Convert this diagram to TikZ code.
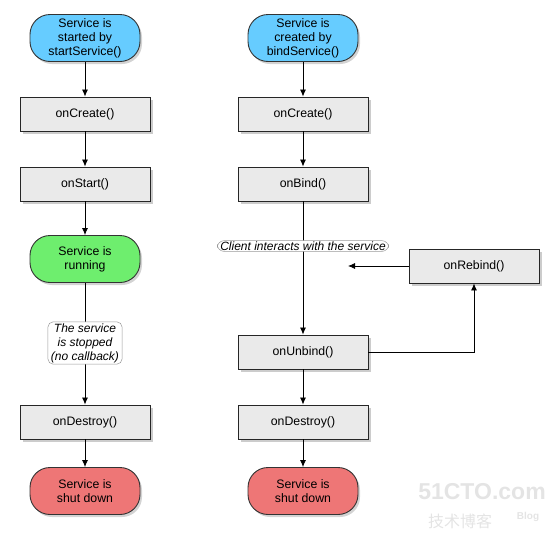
\documentclass[tikz,border=0pt]{standalone}
\usepackage{fontspec}
\setmainfont{Liberation Sans}
\newfontfamily\cjk{Noto Sans CJK SC}
\usetikzlibrary{shadows,arrows.meta,positioning}
\definecolor{termblue}{RGB}{102,204,255}
\definecolor{termgreen}{RGB}{110,238,110}
\definecolor{termred}{RGB}{238,118,118}
\definecolor{boxgray}{RGB}{234,234,234}
\definecolor{wm}{RGB}{228,228,228}
\tikzset{
  base/.style={font=\fontsize{12.3}{14}\selectfont, align=center, inner sep=0pt},
  term/.style={base, draw=black!80, line width=0.9pt, rounded corners=20pt, minimum width=110pt, minimum height=47pt, drop shadow={shadow xshift=2pt, shadow yshift=-2.5pt, opacity=0.35}},
  stepbox/.style={base, draw=black!85, line width=0.9pt, fill=boxgray, minimum width=130pt, minimum height=34pt, drop shadow={shadow xshift=2.5pt, shadow yshift=-3pt, opacity=0.4}},
  note/.style={base, draw=black!40, line width=0.5pt, fill=white, rounded corners=5pt, font=\fontsize{12}{14}\selectfont\itshape, inner xsep=3pt, inner ysep=1.5pt},
  arr/.style={line width=0.8pt, -{Latex[length=7pt,width=6pt]}},
  ln/.style={line width=0.8pt}
}
\begin{document}
\begin{tikzpicture}[x=1pt,y=-1pt]
\useasboundingbox (0,0) rectangle (558,544);
% left column
\node[term, fill=termblue] (ls) at (85,38) {Service is\\started by\\startService()};
\node[stepbox] (lc) at (85,114) {onCreate()};
\node[stepbox] (lst) at (85,184) {onStart()};
\node[term, fill=termgreen] (lr) at (85,259) {Service is\\running};
\node[stepbox] (ld) at (85,422) {onDestroy()};
\node[term, fill=termred] (le) at (85,491) {Service is\\shut down};
\draw[arr] (ls) -- (lc);
\draw[arr] (lc) -- (lst);
\draw[arr] (lst) -- (lr);
\draw[arr] (lr) -- (ld);
\draw[arr] (ld) -- (le);
\node[note] (ln) at (85,343) {The service\\is stopped\\(no callback)};
% right column
\node[term, fill=termblue] (rs) at (303,38) {Service is\\created by\\bindService()};
\node[stepbox] (rc) at (303,114) {onCreate()};
\node[stepbox] (rb) at (303,184) {onBind()};
\node[stepbox] (ru) at (303,352) {onUnbind()};
\node[stepbox] (rd) at (303,422) {onDestroy()};
\node[term, fill=termred] (re) at (303,491) {Service is\\shut down};
\node[stepbox] (rr) at (474,266) {onRebind()};
\coordinate (rtip) at (348,266);
\draw[arr] (rs) -- (rc);
\draw[arr] (rc) -- (rb);
\draw[arr] (rb) -- (ru);
\draw[arr] (ru) -- (rd);
\draw[arr] (rd) -- (re);
\draw[arr] (rr) -- (rtip);
\draw[arr] (ru.east) -| (rr.south);
\node[note, rounded corners=7pt, inner ysep=1pt] (rn) at (303,246) {Client interacts with the service};
% watermark
\node[font=\fontsize{23}{23}\selectfont\bfseries, text=wm, inner sep=0pt] (wm1) at (482,492) {51CTO.com};
\node[font=\cjk\fontsize{16}{16}\selectfont, text=wm, inner sep=0pt] (wm2) at (460,521) {技术博客};
\node[font=\fontsize{10}{10}\selectfont\bfseries, text=wm, inner sep=0pt] (wm3) at (528,517) {Blog};
\end{tikzpicture}
\end{document}
